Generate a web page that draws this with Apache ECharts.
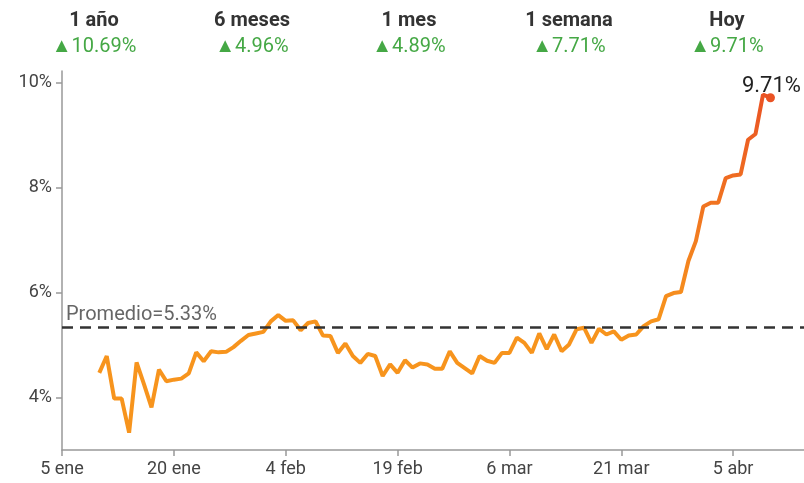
<!DOCTYPE html>
<html>
<head>
<meta charset="utf-8">
<script src="https://cdn.jsdelivr.net/npm/echarts@6/dist/echarts.min.js"></script>
<style>html,body{margin:0;padding:0;background:#fff}#c{width:804px;height:483px}</style>
</head>
<body>
<div id="c"></div>
<script>
// Header
var periods = ['1 año', '6 meses', '1 mes', '1 semana', 'Hoy'];
var changes = ['10.69', '4.96', '4.89', '7.71', '9.71'];
// X axis tick labels (every 15 days from 5 ene)
var xTickLabels = ['5 ene', '20 ene', '4 feb', '19 feb', '6 mar', '21 mar', '5 abr'];
var yTickValues = [4, 6, 8, 10];
// Daily values, first value is day 5 after 5 ene
var startDay = 5;
var values = [
  4.47, 4.79, 3.98, 3.98, 3.33, 4.67, 4.25, 3.81, 4.53, 4.31,
  4.34, 4.36, 4.46, 4.86, 4.69, 4.88, 4.86, 4.87, 4.96, 5.08,
  5.19, 5.22, 5.25, 5.45, 5.57, 5.46, 5.47, 5.28, 5.42, 5.45,
  5.18, 5.17, 4.85, 5.03, 4.79, 4.66, 4.83, 4.79, 4.41, 4.63,
  4.47, 4.71, 4.57, 4.65, 4.63, 4.55, 4.55, 4.88, 4.66, 4.56,
  4.46, 4.79, 4.70, 4.66, 4.85, 4.85, 5.14, 5.04, 4.85, 5.22,
  4.92, 5.20, 4.88, 5.01, 5.30, 5.33, 5.04, 5.31, 5.20, 5.26,
  5.10, 5.18, 5.20, 5.36, 5.45, 5.49, 5.93, 5.99, 6.01, 6.60,
  6.98, 7.64, 7.71, 7.71, 8.18, 8.23, 8.25, 8.91, 9.02, 9.77,
  9.71
];
var average = 5.33;

var data = values.map(function (v, i) { return [startDay + i, v]; });
var lastPoint = data[data.length - 1];

var headerX = [94, 252, 409, 569, 727];
var graphics = [];
periods.forEach(function (p, i) {
  graphics.push({
    type: 'text', x: headerX[i], y: 11,
    style: { text: p, fill: '#333', font: 'bold 20px Roboto', textAlign: 'center' }
  });
  graphics.push({
    type: 'text', x: headerX[i], y: 37,
    style: { text: '▲' + changes[i] + '%', fill: '#45A845', font: '20px Roboto', textAlign: 'center' }
  });
});

var chart = echarts.init(document.getElementById('c'));
chart.setOption({
  animation: false,
  graphic: graphics,
  grid: { left: 62, right: 0, top: 71, bottom: 33, containLabel: false },
  xAxis: {
    type: 'value', min: 0, max: 99.5, interval: 15,
    axisLine: { show: true, lineStyle: { color: '#999', width: 1.5 } },
    axisTick: { show: true, length: 6, lineStyle: { color: '#999', width: 1.5 },
      customValues: xTickLabels.map(function (_, i) { return i * 15; }) },
    axisLabel: { color: '#444', fontSize: 18, fontFamily: 'Roboto', margin: 10,
      customValues: xTickLabels.map(function (_, i) { return i * 15; }),
      formatter: function (v) { return xTickLabels[Math.round(v / 15)]; } },
    splitLine: { show: false }
  },
  yAxis: {
    type: 'value', min: 3, max: 10.22,
    axisLine: { show: true, lineStyle: { color: '#999', width: 1.5 } },
    axisTick: { show: true, length: 6, lineStyle: { color: '#999', width: 1.5 }, customValues: yTickValues },
    axisLabel: { color: '#444', fontSize: 18, fontFamily: 'Roboto', margin: 10, customValues: yTickValues,
      formatter: function (v) { return v + '%'; } },
    splitLine: { show: false }
  },
  series: [{
    type: 'line',
    data: data,
    symbol: 'none',
    lineStyle: {
      width: 4,
      color: {
        type: 'linear', x: 0, y: 0, x2: 0, y2: 1,
        colorStops: [
          { offset: 0, color: '#EA5324' },
          { offset: 0.66, color: '#F7941D' },
          { offset: 1, color: '#F7941D' }
        ]
      }
    },
    markLine: {
      silent: true, symbol: 'none',
      lineStyle: { color: '#333', type: [11, 7], width: 2.5 },
      label: { show: true, position: 'insideStartTop', formatter: 'Promedio=' + average + '%',
        color: '#666', fontSize: 20, fontFamily: 'Roboto', distance: [4, 3] },
      data: [{ yAxis: average }]
    },
    markPoint: {
      silent: true,
      data: [{
        coord: lastPoint, symbol: 'circle', symbolSize: 9,
        itemStyle: { color: '#EA5324' },
        label: { show: true, position: 'top', distance: 0, formatter: lastPoint[1] + '%',
          color: '#222', fontSize: 22, fontFamily: 'Roboto', offset: [1, 4] }
      }]
    }
  }]
});
</script>
</body>
</html>
